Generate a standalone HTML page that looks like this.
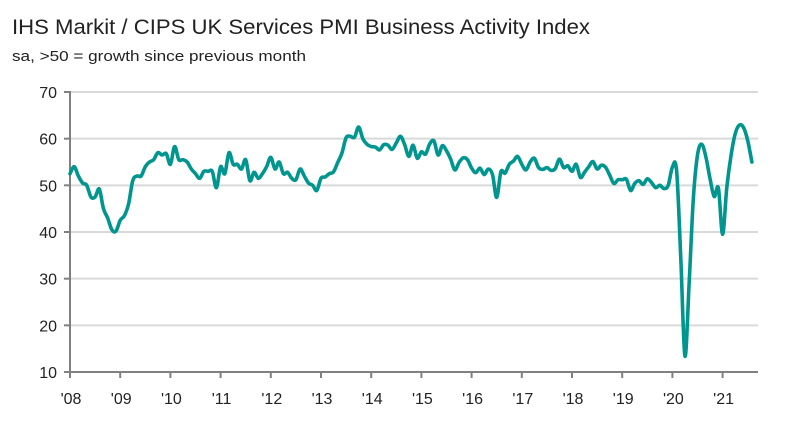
<!DOCTYPE html>
<html><head><meta charset="utf-8"><style>
html,body{margin:0;padding:0;background:#fff}
svg{display:block;font-family:"Liberation Sans",sans-serif}
</style></head><body>
<svg id="chart" width="794" height="424" viewBox="0 0 794 424">
<text x="12" y="34" font-size="21" fill="#222" textLength="578" lengthAdjust="spacingAndGlyphs">IHS Markit / CIPS UK Services PMI Business Activity Index</text>
<text x="12" y="61" font-size="15" fill="#222" textLength="294" lengthAdjust="spacingAndGlyphs">sa, &gt;50 = growth since previous month</text>
<g id="grid"></g><g id="axes"></g><g id="series"></g>
</svg>
<script>
const yTicks=[10,20,30,40,50,60,70];
const xTickLabels=["'08","'09","'10","'11","'12","'13","'14","'15","'16","'17","'18","'19","'20","'21"];
const startYear=2008;
const pmi2008=[52.5,54,52,50.5,50,47.5,47.5,49.2,45,43,40.5,40.2];
const pmi2009=[42.5,43.5,46,51,52,52,54,55,55.5,57,56.5,56.8];
const pmi2010=[54.5,58.3,55.5,55.5,55,53.5,52.5,51.5,53,53,53,49.5];
const pmi2011=[54,52.5,57,54.5,54.5,53.5,55.5,51,52.8,51.5,52.5,54];
const pmi2012=[56,53.5,55,52.5,52.8,51.5,51.2,53.5,52,50.5,50,48.9];
const pmi2013=[51.5,51.8,52.5,52.9,54.9,56.9,60.2,60.5,60.3,62.5,60,58.8];
const pmi2014=[58.3,58.2,57.6,58.7,58.6,57.7,59.1,60.5,58.7,56.2,58.6,55.8];
const pmi2015=[57.2,56.7,58.9,59.5,56.5,58.5,57.4,55.6,53.3,54.9,55.9,55.5];
const pmi2016=[53.7,52.7,53.7,52.3,53.5,52.3,47.4,52.9,52.6,54.5,55.2,56.2];
const pmi2017=[54.5,53.3,55,55.8,53.8,53.4,53.8,53.2,53.6,55.6,53.8,54.2];
const pmi2018=[53,54.5,51.7,52.8,54,55.1,53.5,54.3,53.9,52.2,50.4,51.2];
const pmi2019=[51.2,51.3,48.9,50.4,51,50.2,51.4,50.6,49.5,50,49.3,50];
const pmi2020=[53.9,53.2,34.5,13.4,29,47.1,56.5,58.8,56.1,51.4,47.6,49.4];
const pmi2021=[39.5,49.5,56.3,61,62.9,62.4,59.6,55];
const values=[].concat(pmi2008,pmi2009,pmi2010,pmi2011,pmi2012,pmi2013,pmi2014,pmi2015,pmi2016,pmi2017,pmi2018,pmi2019,pmi2020,pmi2021);

const NS="http://www.w3.org/2000/svg";
const X0=70,YEARW=50.2,Y10=372,Y70=92,XEND=758;
const xs=i=>X0+i*YEARW/12;
const ys=v=>Y10-(v-10)*(Y10-Y70)/60;
function mk(tag,attrs,parent){const e=document.createElementNS(NS,tag);for(const k in attrs)e.setAttribute(k,attrs[k]);document.getElementById(parent).appendChild(e);return e;}

yTicks.forEach(t=>{
  if(t>10){const g=mk('line',{x1:X0,x2:XEND,y1:ys(t),y2:ys(t),stroke:'#d9d9d9','stroke-width':2},'grid');
  
  }
  const tx=mk('text',{x:57,y:ys(t)+6,'font-size':16,'text-anchor':'end',fill:'#222'},'axes');
  tx.textContent=t;
  
  
  const tk=mk('line',{x1:64,x2:70,y1:ys(t),y2:ys(t),stroke:'#808080','stroke-width':2},'axes');
  
  
});
const ya=mk('line',{x1:X0,x2:X0,y1:Y70-1,y2:Y10+1,stroke:'#808080','stroke-width':2},'axes');


const xa=mk('line',{x1:X0,x2:XEND,y1:Y10,y2:Y10,stroke:'#808080','stroke-width':2},'axes');


xTickLabels.forEach((l,i)=>{
  const x=xs(i*12);
  const tk=mk('line',{x1:x,x2:x,y1:Y10,y2:Y10+6,stroke:'#808080','stroke-width':2},'axes');
  
  
  const tx=mk('text',{x:x+1,y:404,'font-size':16,'text-anchor':'middle',fill:'#222'},'axes');
  tx.textContent=l;
  
  
});
const pts=values.map((v,i)=>[xs(i),ys(v)]);
let d='M'+pts[0][0].toFixed(2)+' '+pts[0][1].toFixed(2);
for(let i=0;i<pts.length-1;i++){
  const p0=pts[Math.max(0,i-1)],p1=pts[i],p2=pts[i+1],p3=pts[Math.min(pts.length-1,i+2)];
  const c1=[p1[0]+(p2[0]-p0[0])/6,p1[1]+(p2[1]-p0[1])/6];
  const c2=[p2[0]-(p3[0]-p1[0])/6,p2[1]-(p3[1]-p1[1])/6];
  d+=' C'+c1[0].toFixed(2)+' '+c1[1].toFixed(2)+' '+c2[0].toFixed(2)+' '+c2[1].toFixed(2)+' '+p2[0].toFixed(2)+' '+p2[1].toFixed(2);
}
const p=mk('path',{d:d,fill:'none',stroke:'#00968f','stroke-width':3.6,'stroke-linejoin':'round','stroke-linecap':'round'},'series');


</script>
</body></html>
